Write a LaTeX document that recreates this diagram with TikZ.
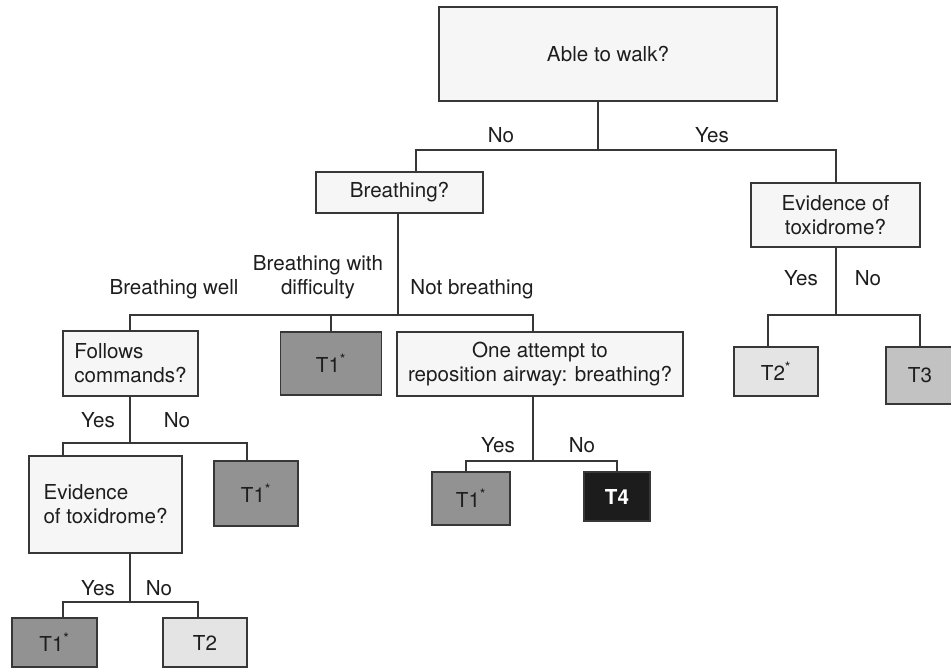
\documentclass[tikz,border=0pt]{standalone}
\usepackage{fontspec}
\setmainfont{TeX Gyre Heros}
\definecolor{lightbox}{RGB}{246,246,246}
\definecolor{tonecol}{RGB}{146,146,146}
\definecolor{ttwocol}{RGB}{228,228,228}
\definecolor{tthreecol}{RGB}{194,194,194}
\definecolor{tfourcol}{RGB}{28,28,28}
\definecolor{edgecol}{RGB}{55,55,55}
\definecolor{txtcol}{RGB}{30,30,30}
\begin{document}
\begin{tikzpicture}[x=1pt,y=-1pt,
  box/.style={draw=edgecol, line width=1.2pt, inner sep=0pt, align=center,
    font=\fontsize{20.6}{24}\selectfont, text=txtcol},
  qbox/.style={box, fill=lightbox},
  tone/.style={box, fill=tonecol},
  ttwo/.style={box, fill=ttwocol},
  tthree/.style={box, fill=tthreecol},
  tfour/.style={box, fill=tfourcol, text=white, font=\fontsize{20.6}{24}\selectfont\bfseries},
  lab/.style={inner sep=0pt, align=center, font=\fontsize{20.6}{24}\selectfont, text=txtcol},
  conn/.style={draw=edgecol, line width=1.2pt}]
\useasboundingbox (0,0) rectangle (951,668);
\fill[white] (0,0) rectangle (951,668);

% nodes
\node[qbox, minimum width=338pt, minimum height=94pt] (walk) at (608,54) {Able to walk?};
\node[qbox, minimum width=167pt, minimum height=41pt] (breath) at (399.5,192.5) {Breathing?};
\node[qbox, minimum width=169pt, minimum height=64pt] (evR) at (835.5,215) {Evidence of\\toxidrome?};
\node[qbox, minimum width=135pt, minimum height=65pt, align=left] (follows) at (130.5,363.5) {Follows\\commands?};
\node[tone, minimum width=101pt, minimum height=63pt] (tonea) at (331,363.5) {T1\textsuperscript{*}};
\node[qbox, minimum width=286pt, minimum height=64pt] (attempt) at (540,364) {One attempt to\\reposition airway: breathing?};
\node[ttwo, minimum width=84pt, minimum height=49pt] (ttwos) at (776,371.5) {T2\textsuperscript{*}};
\node[tthree, minimum width=68pt, minimum height=57pt] (tthree) at (920,375.5) {T3};
\node[tone, minimum width=84pt, minimum height=65pt] (toneb) at (256,493.5) {T1\textsuperscript{*}};
\node[qbox, minimum width=153pt, minimum height=97pt, align=left] (evL) at (105.5,504.5) {Evidence\\of toxidrome?};
\node[tone, minimum width=78pt, minimum height=53pt] (tonec) at (471,498.5) {T1\textsuperscript{*}};
\node[tfour, minimum width=66pt, minimum height=49pt] (tfour) at (617,496.5) {T4};
\node[tone, minimum width=85pt, minimum height=49pt] (toned) at (54.5,642.5) {T1\textsuperscript{*}};
\node[ttwo, minimum width=84pt, minimum height=49pt] (ttwo) at (205,642.5) {T2};

% junction coordinates
\coordinate (a) at (598,150); \coordinate (aL) at (416,150); \coordinate (aR) at (836,150);
\coordinate (b) at (398,315); \coordinate (bL) at (130,315); \coordinate (bM) at (331,315); \coordinate (bR) at (533,315);
\coordinate (c) at (836,315); \coordinate (cL) at (768,315); \coordinate (cR) at (920,315);
\coordinate (d) at (130,443); \coordinate (dL) at (63,443); \coordinate (dR) at (247,443);
\coordinate (e) at (533,461); \coordinate (eL) at (466,461); \coordinate (eR) at (617,461);
\coordinate (f) at (130,602); \coordinate (fL) at (63,602); \coordinate (fR) at (198,602);

% connectors
\draw[conn] (walk.south -| a) -- (a);
\draw[conn] (aL |- breath.north) -- (aL) -- (aR) -- (aR |- evR.north);
\draw[conn] (breath.south -| b) -- (b);
\draw[conn] (bL |- follows.north) -- (bL) -- (bR) -- (bR |- attempt.north);
\draw[conn] (bM) -- (bM |- tonea.north);
\draw[conn] (evR.south -| c) -- (c);
\draw[conn] (cL |- ttwos.north) -- (cL) -- (cR) -- (cR |- tthree.north);
\draw[conn] (follows.south -| d) -- (d);
\draw[conn] (dL |- evL.north) -- (dL) -- (dR) -- (dR |- toneb.north);
\draw[conn] (attempt.south -| e) -- (e);
\draw[conn] (eL |- tonec.north) -- (eL) -- (eR) -- (eR |- tfour.north);
\draw[conn] (evL.south -| f) -- (f);
\draw[conn] (fL |- toned.north) -- (fL) -- (fR) -- (fR |- ttwo.north);

% labels
\node[lab] (lno1) at (501,135) {No};
\node[lab] (lyes1) at (712,135) {Yes};
\node[lab] (lbw) at (174,289) {Breathing well};
\node[lab] (lbd) at (318,277) {Breathing with\\difficulty};
\node[lab] (lnb) at (472,289) {Not breathing};
\node[lab] (lyes2) at (801,278) {Yes};
\node[lab] (lno2) at (868,278) {No};
\node[lab] (lyes3) at (98,420) {Yes};
\node[lab] (lno3) at (177,420) {No};
\node[lab] (lyes4) at (98,588) {Yes};
\node[lab] (lno4) at (159,588) {No};
\node[lab] (lyes5) at (498,445) {Yes};
\node[lab] (lno5) at (582,445) {No};
\end{tikzpicture}
\end{document}
